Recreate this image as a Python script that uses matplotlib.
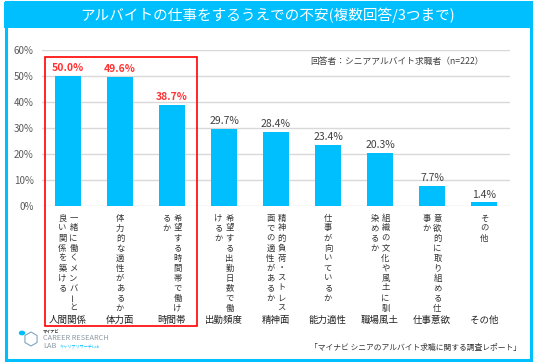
import matplotlib
matplotlib.use('Agg')
import matplotlib.pyplot as plt
import matplotlib.transforms as mtransforms
from matplotlib.patches import Rectangle, Polygon, Circle
import numpy as np

plt.rcParams['font.family'] = ['Noto Sans CJK JP', 'DejaVu Sans']

# Data
categories = ['人間関係', '体力面', '時間帯', '出勤頻度', '精神面', '能力適性', '職場風土', '仕事意欲', 'その他']
values = [50.0, 49.6, 38.7, 29.7, 28.4, 23.4, 20.3, 7.7, 1.4]
descriptions = [
    ['一緒に働くメンバーと', '良い関係を築ける'],
    ['体力的な適性があるか'],
    ['希望する時間帯で働け', 'るか'],
    ['希望する出勤日数で働', 'けるか'],
    ['精神的負荷・ストレス', '面での適性があるか'],
    ['仕事が向いているか'],
    ['組織の文化や風土に馴', '染めるか'],
    ['意欲的に取り組める仕', '事か'],
    ['その他'],
]
highlight = 3  # first three are highlighted in red
yticks = [0, 10, 20, 30, 40, 50, 60]

W, H = 536, 362
CYAN = '#00bfff'

fig = plt.figure(figsize=(W / 100, H / 100), dpi=100)


def fx(px):
    return px / W


def fy(py):
    return 1 - py / H


# outer frame and title band
fig.patches.append(Rectangle((fx(5.5), fy(359.5)), fx(525), 357.5 / H, transform=fig.transFigure,
                             facecolor='none', edgecolor=CYAN, lw=2.2, zorder=0))
fig.patches.append(Rectangle((fx(4), fy(28)), fx(529), 26 / H, transform=fig.transFigure,
                             facecolor=CYAN, edgecolor='none', zorder=1))
fig.text(0.5, fy(15), 'アルバイトの仕事をするうえでの不安(複数回答/3つまで)', color='white',
         fontsize=10.5, ha='center', va='center', zorder=2)

ax = fig.add_axes([fx(42), fy(206), fx(468), 156.5 / H], zorder=3)
x = np.arange(len(categories))
ax.bar(x, values, width=0.5, color=CYAN, zorder=3)
ax.set_xlim(-0.5, len(categories) - 0.5)
ax.set_ylim(0, 60)
ax.set_yticks(yticks)
ax.set_yticklabels([f'{t}%' for t in yticks], fontsize=7, color='#595959')
ax.set_xticks([])
ax.tick_params(axis='y', length=0, pad=6)
ax.grid(axis='y', color='#d9d9d9', lw=1, zorder=0)
for s in ax.spines.values():
    s.set_visible(False)
ax.patch.set_alpha(0)

for i, v in enumerate(values):
    red = i < highlight
    ax.annotate(f'{v:.1f}%', (i, v), xytext=(0, 2), textcoords='offset points',
                ha='center', va='bottom', fontsize=7.5,
                color='#ff3333' if red else '#404040',
                fontweight='bold' if red else 'normal')

# vertical (tategaki) descriptions and category names
blend = mtransforms.blended_transform_factory(ax.transData, fig.transFigure)
for i, cols in enumerate(descriptions):
    n = len(cols)
    for c, col in enumerate(cols):
        dx = 5.5 * (n - 1) - 11 * c
        tr = mtransforms.offset_copy(blend, fig=fig, x=dx, y=0, units='dots')
        for k, ch in enumerate(col):
            rot = 90 if ch == 'ー' else 0
            fig.text(i, fy(218 + k * 10), ch, transform=tr, fontsize=6, color='#333333',
                     ha='center', va='center', rotation=rot)
    fig.text(i, fy(320), categories[i], transform=blend, fontsize=6.8, color='#222222',
             ha='center', va='center')

# red highlight box
fig.patches.append(Rectangle((-0.44, fy(326)), 2.92, 269 / H, transform=blend,
                             facecolor='none', edgecolor='#ff0000', lw=1.2, zorder=5))

fig.text(fx(397), fy(61), '回答者：シニアアルバイト求職者（n=222）', fontsize=6.3,
         color='#404040', ha='center', va='center')
fig.text(fx(521), fy(348), '「マイナビ シニアのアルバイト求職に関する調査レポート」', fontsize=5.6,
         color='#333333', ha='right', va='center')

# logo
cx, cy = 31, 339
hexpts = [(cx + 7 * np.cos(a), cy + 7 * np.sin(a)) for a in np.linspace(np.pi / 6, 2 * np.pi + np.pi / 6, 7)[:-1]]
fig.patches.append(Polygon([(fx(px), fy(py)) for px, py in hexpts], closed=True, transform=fig.transFigure,
                           facecolor='none', edgecolor='#7fa7c0', lw=0.8))
fig.patches.append(Circle((fx(22), fy(333)), 2.5 / W, transform=fig.transFigure, color=CYAN))
fig.text(fx(43), fy(332), 'マイナビ', fontsize=3, color='#333333', va='center', fontweight='bold')
fig.text(fx(43), fy(338.5), 'CAREER RESEARCH', fontsize=5.3, color='#8c9aa5', va='center')
fig.text(fx(43), fy(346), 'LAB', fontsize=5.3, color='#8c9aa5', va='center')
fig.text(fx(60), fy(346), 'キャリアリサーチLab', fontsize=3, color=CYAN, va='center')

fig.savefig('out.png', dpi=100)
